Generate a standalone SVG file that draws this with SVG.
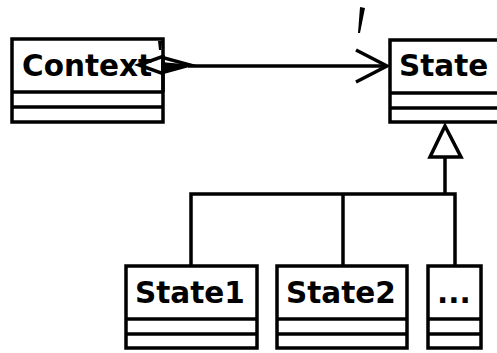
<svg xmlns="http://www.w3.org/2000/svg" width="497" height="353" viewBox="0 0 497 353">
  <style>
    .box { fill: #fff; stroke: #000; stroke-width: 3.5; }
    .sep { stroke: #000; stroke-width: 3.5; }
    .name { font-family: "DejaVu Sans", sans-serif; font-weight: bold; font-size: 29.5px; fill: #000; }
    .edge { fill: none; stroke: #000; stroke-width: 3.5; }
  </style>
  <rect width="497" height="353" fill="#fff"/>

  <g id="node-context">
    <rect class="box" x="12" y="39" width="151" height="83"/>
    <line class="sep" x1="12" y1="92" x2="163" y2="92"/>
    <line class="sep" x1="12" y1="107" x2="163" y2="107"/>
    <text class="name" x="22" y="76">Context</text>
  </g>

  <g id="node-state">
    <rect class="box" x="390" y="40" width="112" height="82"/>
    <line class="sep" x1="390" y1="93" x2="502" y2="93"/>
    <line class="sep" x1="390" y1="108" x2="502" y2="108"/>
    <text class="name" x="399" y="76">State</text>
  </g>

  <g id="node-state1">
    <rect class="box" x="126" y="266" width="131" height="82"/>
    <line class="sep" x1="126" y1="319" x2="257" y2="319"/>
    <line class="sep" x1="126" y1="334" x2="257" y2="334"/>
    <text class="name" x="135" y="303">State1</text>
  </g>

  <g id="node-state2">
    <rect class="box" x="277" y="266" width="130" height="82"/>
    <line class="sep" x1="277" y1="319" x2="407" y2="319"/>
    <line class="sep" x1="277" y1="334" x2="407" y2="334"/>
    <text class="name" x="286" y="303">State2</text>
  </g>

  <g id="node-more">
    <rect class="box" x="428" y="266" width="53" height="82"/>
    <line class="sep" x1="428" y1="319" x2="481" y2="319"/>
    <line class="sep" x1="428" y1="334" x2="481" y2="334"/>
    <text class="name" x="437" y="303">...</text>
  </g>

  <g id="connectors">
    <!-- association Context -> State -->
    <line class="edge" x1="188" y1="66" x2="387" y2="66"/>
    <polyline class="edge" points="356,50 387,66 356,82"/>
    <!-- aggregation end at Context -->
    <polygon class="edge" points="139,65 161,57 190,65 161,73"/>
    <polygon points="161,62 194,65 161,72" fill="#000"/>
    <line class="edge" x1="163" y1="55" x2="163" y2="92"/>
    <polygon points="158,41 162,41 161,50 159,50" fill="#000"/>
    <polygon points="360,7 365,8 360,33 358,33" fill="#000"/>

    <!-- generalisation to State -->
    <polygon class="edge" points="445,126 461,157 430,157" fill="#fff"/>
    <line class="edge" x1="445" y1="157" x2="445" y2="194"/>
    <polyline class="edge" points="191,266 191,194 455,194 455,266"/>
    <line class="edge" x1="343" y1="194" x2="343" y2="266"/>
  </g>
</svg>
